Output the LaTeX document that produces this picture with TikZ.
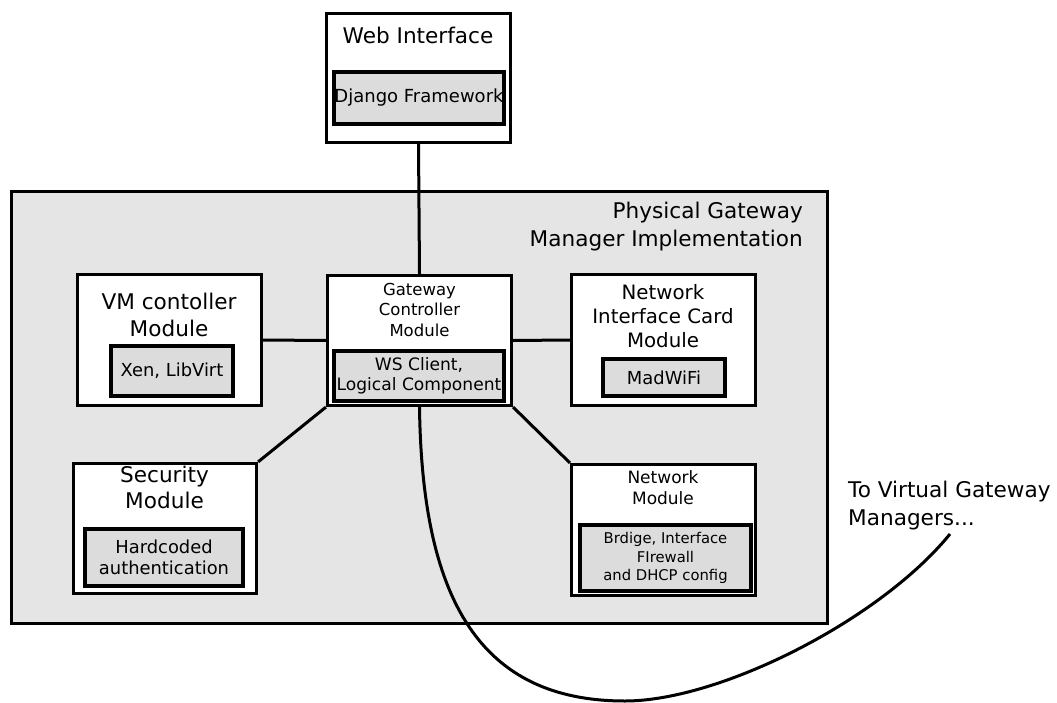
\documentclass[tikz,border=0pt]{standalone}
\usepackage{fontspec}
\setmainfont{DejaVu Sans}
\definecolor{panelgray}{RGB}{229,229,229}
\definecolor{innergray}{RGB}{220,220,220}
\begin{document}
\begin{tikzpicture}[x=1pt,y=-1pt,
  outerbox/.style={draw=black, line width=3.2pt, fill=white, inner sep=0pt},
  innerbox/.style={draw=black, line width=3.6pt, fill=innergray, inner sep=0pt, align=center},
  panel/.style={draw=black, line width=3pt, fill=panelgray, inner sep=0pt},
  label/.style={inner sep=0pt, align=center},
  fbig/.style={font=\fontsize{21.6}{26.5}\selectfont},
  fhead/.style={font=\fontsize{21.6}{28}\selectfont},
  fmid/.style={font=\fontsize{19.8}{24}\selectfont},
  fweb/.style={font=\fontsize{18}{21}\selectfont},
  fsub/.style={font=\fontsize{17.9}{21}\selectfont},
  fws/.style={font=\fontsize{17.1}{20}\selectfont},
  fsmall/.style={font=\fontsize{16.5}{20.5}\selectfont},
  fnet/.style={font=\fontsize{17}{21}\selectfont},
  ftiny/.style={font=\fontsize{14.8}{18.5}\selectfont},
  wire/.style={draw=black, line width=3pt}]
\useasboundingbox (0,0) rectangle (1057,703);

% outer panel holding the gateway manager
\node[panel, minimum width=816pt, minimum height=432pt] (phys) at (419.5,407.5) {};
\node[label, fhead, align=right, anchor=east] (physlbl) at (803,227) {Physical Gateway\\Manager Implementation};

% web interface
\node[outerbox, minimum width=184pt, minimum height=129pt] (web) at (418.5,78) {};
\node[label, fbig] (weblbl) at (418,35) {Web Interface};
\node[innerbox, fweb, minimum width=170pt, minimum height=52pt] (django) at (419,98) {Django Framework};

% gateway controller
\node[outerbox, minimum width=184pt, minimum height=130pt] (gw) at (419.5,340.5) {};
\node[label, fsmall] (gwlbl) at (419.5,309.5) {Gateway\\Controller\\Module};
\node[innerbox, fws, minimum width=170pt, minimum height=50pt] (ws) at (419,376) {WS Client,\\Logical Component};

% VM controller
\node[outerbox, minimum width=184pt, minimum height=131pt] (vm) at (169.5,340) {};
\node[label, fbig] (vmlbl) at (169,315) {VM contoller\\Module};
\node[innerbox, fsub, minimum width=122pt, minimum height=50pt] (xen) at (172,371) {Xen, LibVirt};

% network interface card
\node[outerbox, minimum width=184pt, minimum height=131pt] (nic) at (663.5,340) {};
\node[label, fmid] (niclbl) at (663,316) {Network\\Interface Card\\Module};
\node[innerbox, fsub, minimum width=122pt, minimum height=37pt] (mad) at (664,377.5) {MadWiFi};

% security
\node[outerbox, minimum width=183pt, minimum height=130pt] (sec) at (165,528.5) {};
\node[label, fbig] (seclbl) at (164.5,487.5) {Security\\Module};
\node[innerbox, fsub, minimum width=158pt, minimum height=57pt] (hard) at (164,557.5) {Hardcoded\\authentication};

% network
\node[outerbox, minimum width=184pt, minimum height=131pt] (net) at (663.5,530) {};
\node[label, fnet] (netlbl) at (663,487.5) {Network\\Module};
\node[innerbox, ftiny, minimum width=171pt, minimum height=66pt] (bridge) at (665.5,558) {\raisebox{-1.5pt}{\parbox{160pt}{\centering Brdige, Interface\\FIrewall\\and DHCP config}}};

% links between modules
\draw[wire] (web.south) -- (gw.north);
\draw[wire] (vm.east) -- (gw.west);
\draw[wire] (gw.east) -- (nic.west);
\draw[wire] (gw.south west) -- (sec.north east);
\draw[wire] (gw.south east) -- (net.north west);

% link out to the virtual gateway managers
\node[label, fhead, align=left, anchor=west] (vgm) at (848,506) {To Virtual Gateway\\Managers...};
\coordinate (vgmend) at (950,534);
\coordinate (curvelow) at (625,701);
\draw[wire] (gw.south) .. controls (422,600) and (480,701) .. (curvelow)
  .. controls (720,701) and (880,620) .. (vgmend);
\end{tikzpicture}
\end{document}
